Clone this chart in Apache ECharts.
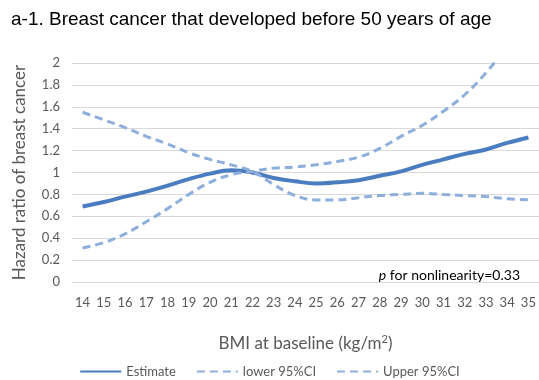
<!DOCTYPE html>
<html>
<head>
<meta charset="utf-8">
<script src="https://cdn.jsdelivr.net/npm/echarts@6/dist/echarts.min.js"></script>
<style>html,body{margin:0;padding:0;background:#fff}#c{width:539px;height:380px}</style>
</head>
<body>
<div id="c"></div>
<script>
var categories = ['14','15','16','17','18','19','20','21','22','23','24','25','26','27','28','29','30','31','32','33','34','35'];
var estimate = [0.69,0.73,0.78,0.825,0.88,0.94,0.99,1.02,1.00,0.95,0.92,0.90,0.91,0.93,0.97,1.01,1.07,1.12,1.17,1.21,1.27,1.32];
var ciHigh = [1.55,1.48,1.41,1.33,1.26,1.18,1.12,1.07,1.01,0.89,0.79,0.75,0.75,0.77,0.79,0.80,0.81,0.80,0.79,0.78,0.76,0.75];
var ciLow = [0.31,0.36,0.44,0.55,0.67,0.80,0.91,0.98,1.01,1.04,1.05,1.07,1.10,1.14,1.22,1.33,1.43,1.56,1.71,1.91,2.15,2.40];
var yTicks = [0,0.2,0.4,0.6,0.8,1,1.2,1.4,1.6,1.8,2];

var font = 'Lato';
var chart = echarts.init(document.getElementById('c'));
chart.setOption({
  animation: false,
  title: [{
    text: 'a-1. Breast cancer that developed before 50 years of age',
    left: 6, top: 5,
    textStyle: {fontFamily: 'Liberation Sans', fontSize: 19, fontWeight: 'normal', color: '#000'}
  }, {
    text: '{i|p} for nonlinearity=0.33',
    right: 14, top: 263,
    textStyle: {
      fontFamily: font, fontSize: 14, fontWeight: 'normal', color: '#000',
      rich: {i: {fontFamily: font, fontSize: 14, fontStyle: 'italic', color: '#000'}}
    }
  }],
  grid: {left: 72, right: 0, top: 63, bottom: 98},
  legend: {
    bottom: -3, left: 'center',
    itemWidth: 41, itemHeight: 10, itemGap: 20,
    itemStyle: {opacity: 0},
    textStyle: {fontFamily: font, fontSize: 13, color: '#595959'},
    data: ['Estimate', 'lower 95%CI', 'Upper 95%CI']
  },
  xAxis: {
    type: 'category', data: categories, boundaryGap: true,
    name: 'BMI at baseline (kg/m{s|2})', nameLocation: 'middle', nameGap: 52,
    nameTextStyle: {fontFamily: font, fontSize: 17, color: '#595959',
      rich: {s: {fontFamily: font, fontSize: 11, color: '#595959', verticalAlign: 'top', padding: [0,0,8,0]}}},
    axisLine: {show: false}, axisTick: {show: false},
    axisLabel: {interval: 0, margin: 14, fontFamily: font, fontSize: 13, color: '#595959'}
  },
  yAxis: {
    type: 'value', min: 0, max: 2, interval: 0.2,
    name: 'Hazard ratio of breast cancer', nameLocation: 'middle', nameGap: 44,
    nameTextStyle: {fontFamily: font, fontSize: 17, color: '#595959'},
    axisLine: {show: false}, axisTick: {show: false},
    axisLabel: {margin: 12, fontFamily: font, fontSize: 13, color: '#595959',
      formatter: function (v) { return String(Math.round(v * 10) / 10); }},
    splitLine: {lineStyle: {color: '#d9d9d9', width: 1}}
  },
  series: [{
    name: 'Estimate', type: 'line', data: estimate, smooth: 0.4, symbol: 'none',
    lineStyle: {color: '#4a7cc0', width: 4}, itemStyle: {color: '#4a7cc0'}, z: 3
  }, {
    name: 'lower 95%CI', type: 'line', data: ciHigh, smooth: 0.4, symbol: 'none',
    lineStyle: {color: '#8eaedb', width: 3, type: [8, 5]}, itemStyle: {color: '#8eaedb'}
  }, {
    name: 'Upper 95%CI', type: 'line', data: ciLow, smooth: 0.4, symbol: 'none',
    lineStyle: {color: '#8eaedb', width: 3, type: [8, 5]}, itemStyle: {color: '#8eaedb'}
  }]
});
</script>
</body>
</html>
